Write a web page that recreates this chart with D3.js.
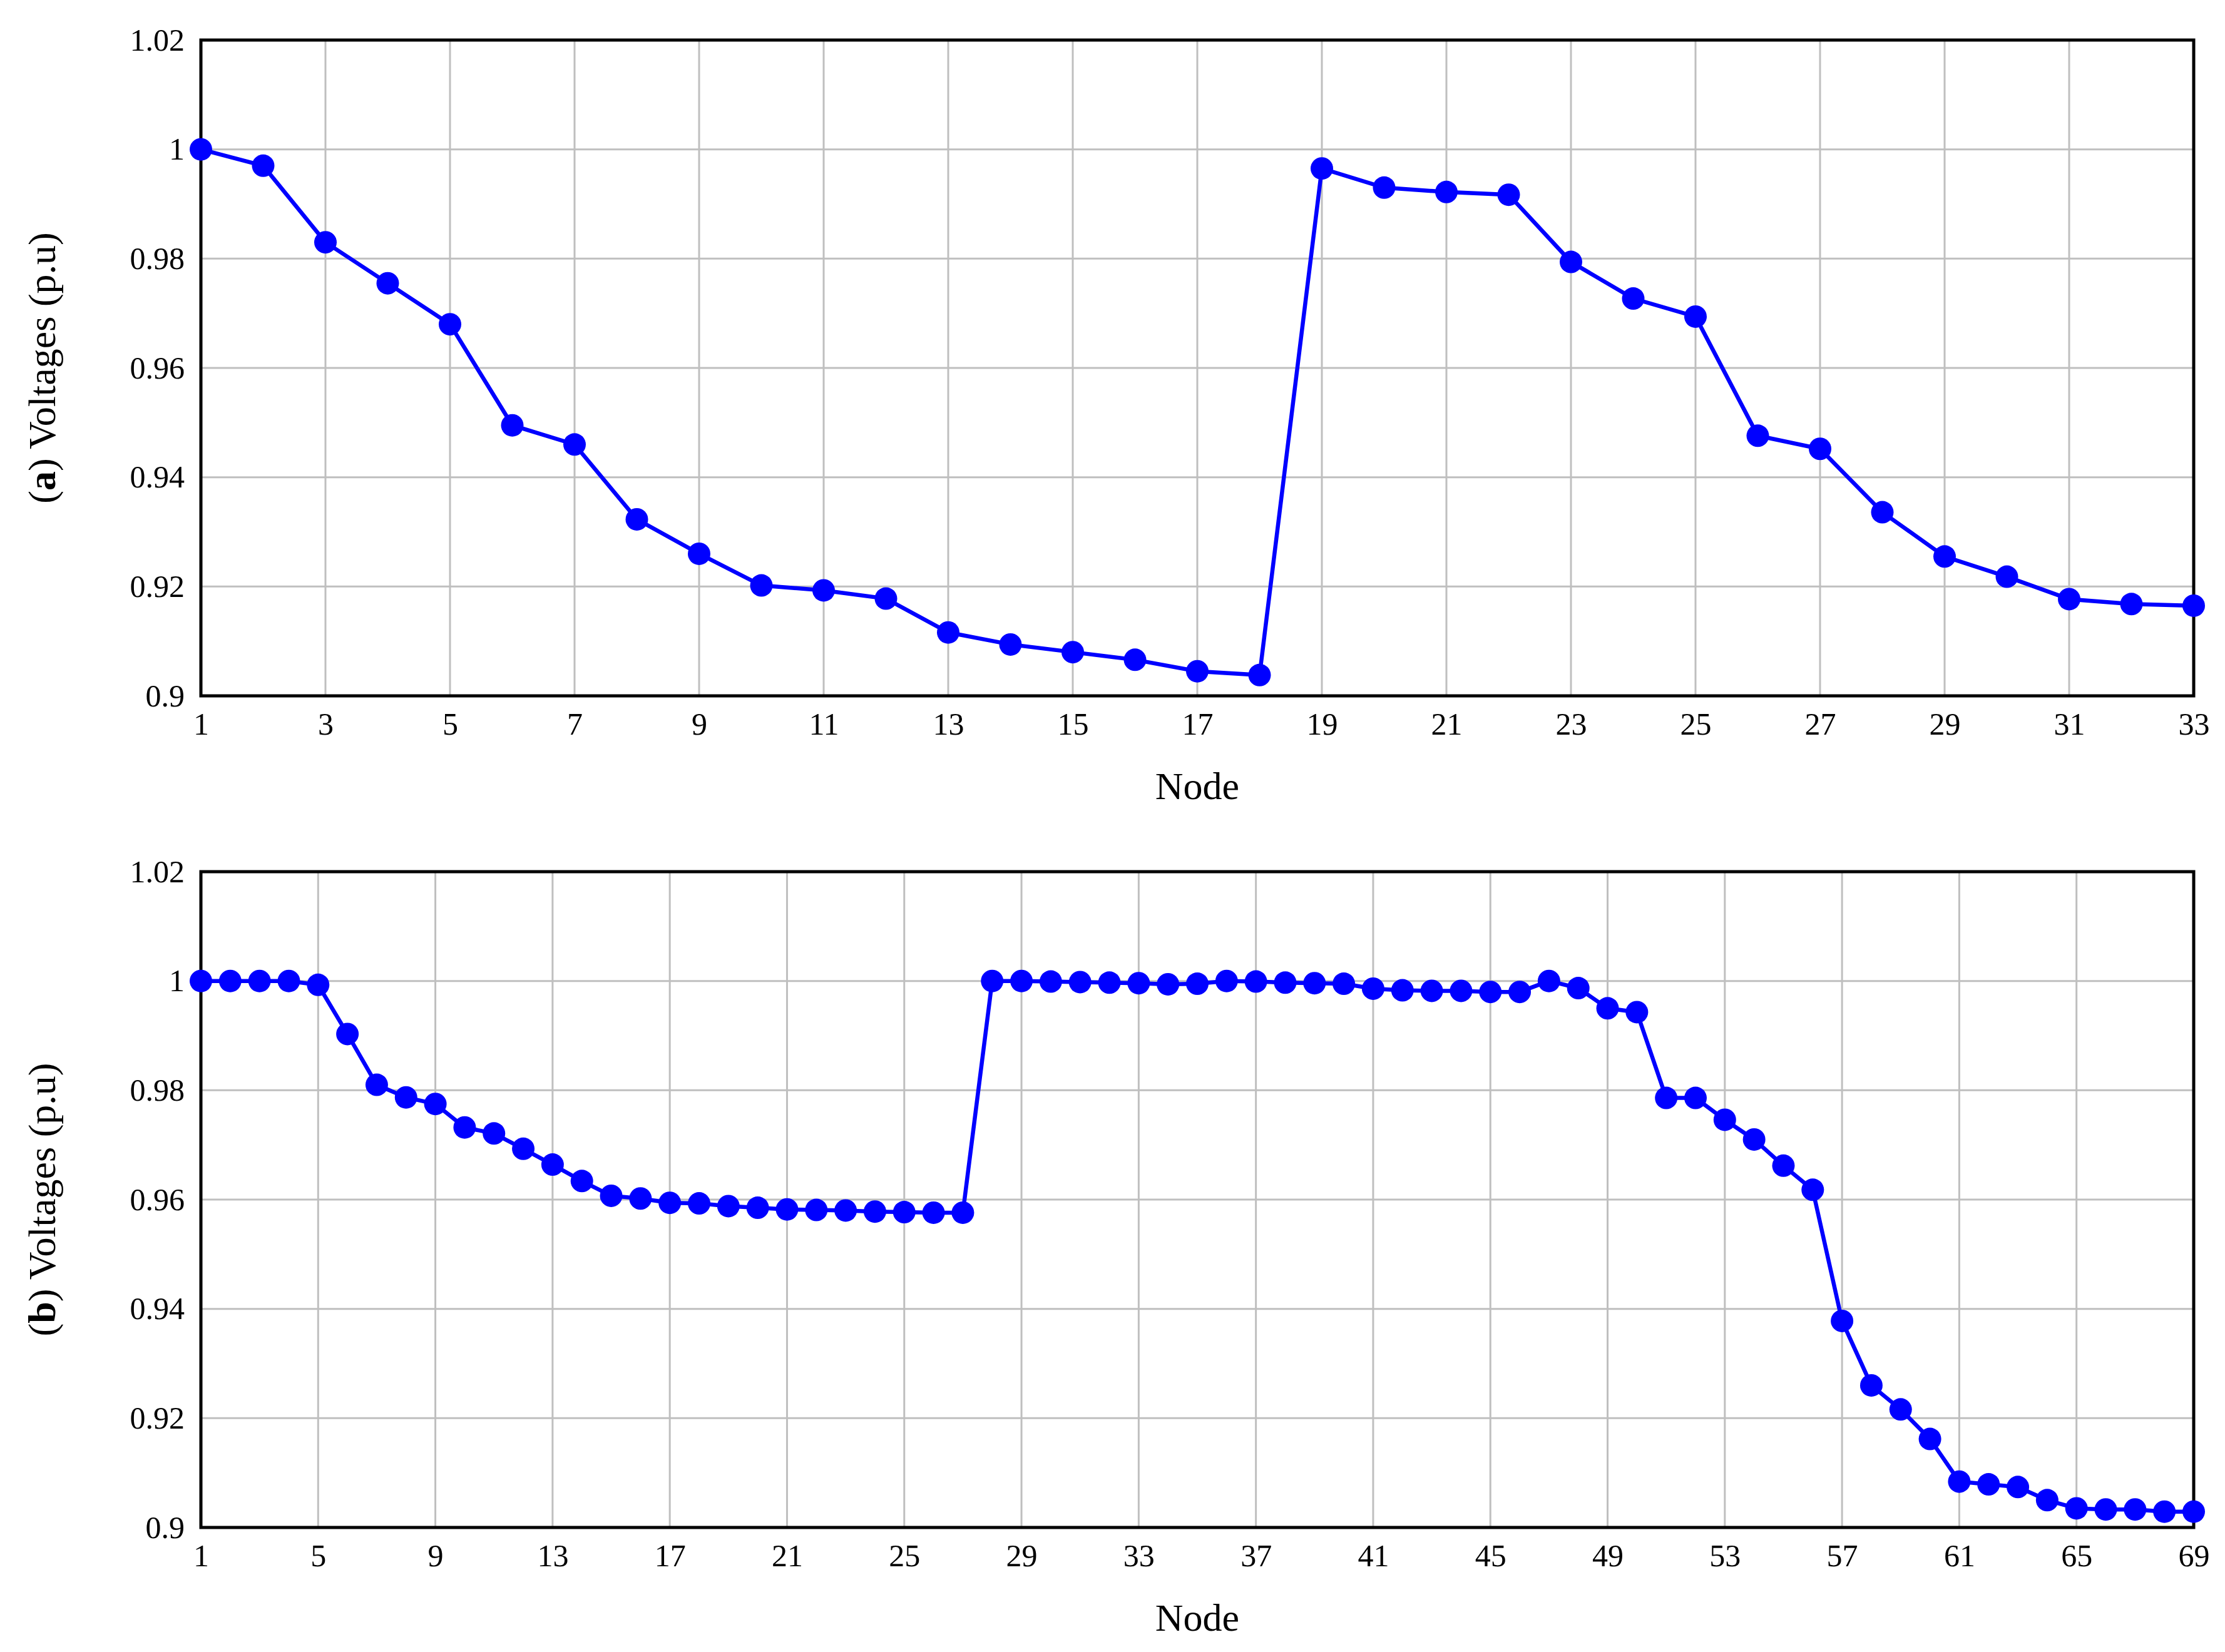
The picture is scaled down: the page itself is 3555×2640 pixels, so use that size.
<!DOCTYPE html>
<html><head><meta charset="utf-8">
<script src="https://cdn.jsdelivr.net/npm/d3@7"></script>
<style>body{margin:0;background:#fff}</style></head>
<body><svg id="c" width="3555" height="2640"></svg>
<script>
const valuesA=[1.0,0.997,0.983,0.9755,0.968,0.9495,0.946,0.9323,0.926,0.9202,0.9193,0.9178,0.9116,0.9094,0.908,0.9066,0.9045,0.9038,0.9965,0.993,0.9922,0.9917,0.9794,0.9727,0.9694,0.9476,0.9452,0.9336,0.9255,0.9218,0.9177,0.9168,0.9165];
const valuesB=[1.0,1.0,1.0,1.0,0.9993,0.9903,0.981,0.9787,0.9775,0.9732,0.9721,0.9693,0.9664,0.9634,0.9607,0.9602,0.9594,0.9593,0.9588,0.9585,0.9582,0.9581,0.958,0.9578,0.9577,0.9576,0.9576,1.0,1.0,0.9999,0.9998,0.9997,0.9996,0.9994,0.9995,1.0,0.9999,0.9997,0.9996,0.9995,0.9986,0.9983,0.9982,0.9982,0.998,0.998,1.0,0.9987,0.995,0.9943,0.9786,0.9786,0.9746,0.971,0.9662,0.9618,0.9378,0.926,0.9216,0.9162,0.9084,0.9079,0.9074,0.905,0.9035,0.9033,0.9033,0.9029,0.9029];
const yTicks=[0.9,0.92,0.94,0.96,0.98,1,1.02];
const xTicksA=d3.range(1,34,2);
const xTicksB=d3.range(1,70,4);
const svg=d3.select("#c");
const font="'Liberation Serif','DejaVu Serif',serif";
function panel(vals,xt,top,letter){
  const L=321,R=3505,T=top,B=top+1048;
  const x=d3.scaleLinear().domain([1,vals.length]).range([L,R]);
  const y=d3.scaleLinear().domain([0.9,1.02]).range([B,T]);
  const g=svg.append("g");
  g.selectAll(".gx").data(xt).join("line").attr("x1",d=>x(d)).attr("x2",d=>x(d)).attr("y1",T).attr("y2",B).attr("stroke","#bfbfbf").attr("stroke-width",3);
  g.selectAll(".gy").data(yTicks).join("line").attr("y1",d=>y(d)).attr("y2",d=>y(d)).attr("x1",L).attr("x2",R).attr("stroke","#bfbfbf").attr("stroke-width",3);
  const ax=g.append("g").attr("transform",`translate(0,${B})`).call(d3.axisBottom(x).tickValues(xt).tickFormat(d3.format("d")).tickSize(0).tickPadding(26));
  const ay=g.append("g").attr("transform",`translate(${L},0)`).call(d3.axisLeft(y).tickValues(yTicks).tickFormat(d=>String(+d.toFixed(2))).tickSize(0).tickPadding(26));
  [ax,ay].forEach(a=>{a.select(".domain").remove();a.selectAll("text").attr("font-family",font).attr("font-size",50).attr("fill","#000");});
  g.append("rect").attr("x",L).attr("y",T).attr("width",R-L).attr("height",B-T).attr("fill","none").attr("stroke","#000").attr("stroke-width",5);
  const pts=vals.map((v,i)=>[i+1,v]);
  g.append("path").datum(pts).attr("d",d3.line().x(d=>x(d[0])).y(d=>y(d[1]))).attr("fill","none").attr("stroke","#0000ff").attr("stroke-width",6.5);
  g.selectAll(".pt").data(pts).join("circle").attr("cx",d=>x(d[0])).attr("cy",d=>y(d[1])).attr("r",18).attr("fill","#0000ff");
  g.append("text").attr("x",(L+R)/2).attr("y",B+165).attr("text-anchor","middle").attr("font-family",font).attr("font-size",62).text("Node");
  const t=g.append("text").attr("transform",`translate(88,${(T+B)/2}) rotate(-90)`).attr("text-anchor","middle").attr("font-family",font).attr("font-size",62);
  t.append("tspan").text("(");t.append("tspan").attr("font-weight","bold").text(letter);t.append("tspan").text(") Voltages (p.u)");
}
panel(valuesA,xTicksA,64,"a");
panel(valuesB,xTicksB,1393,"b");
</script></body></html>
